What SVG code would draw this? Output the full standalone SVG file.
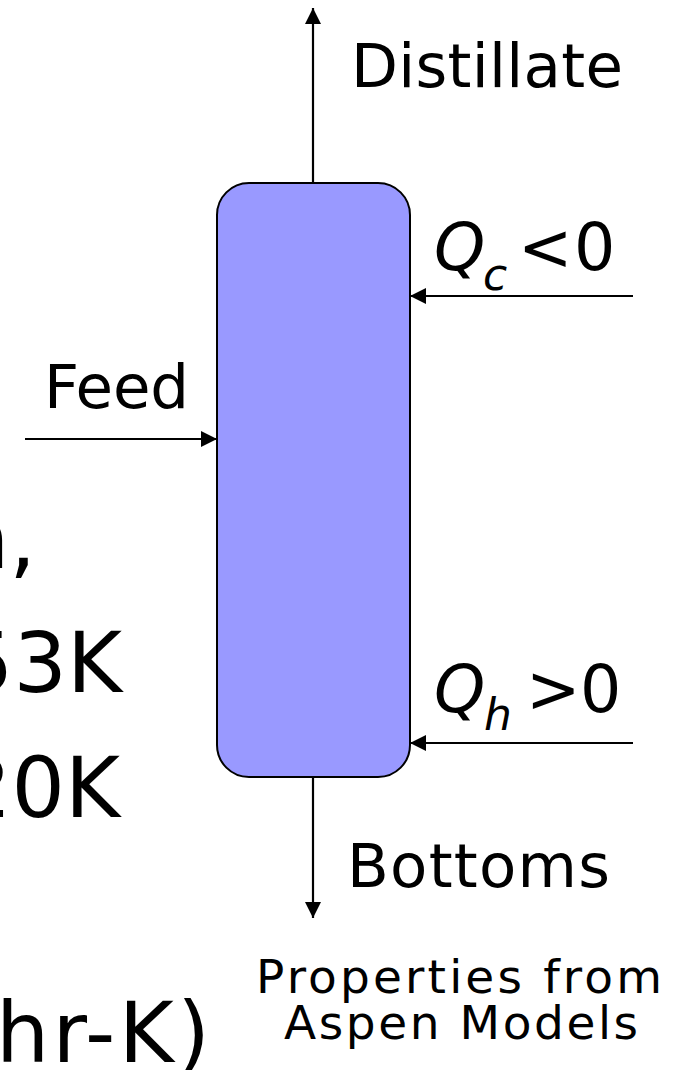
<svg xmlns="http://www.w3.org/2000/svg" width="681" height="1070" viewBox="0 0 681 1070">
<style>
text{font-family:"DejaVu Sans",Verdana,"Liberation Sans",sans-serif;fill:#000}
.big{font-size:84px}
.lbl{font-size:61px}
.q{font-size:65px}
.sm{font-size:47px}
.it{font-style:italic}
.sub{font-size:44px;font-style:italic}
.conn line{stroke:#000;stroke-width:2.2;marker-end:url(#ah)}
</style>
<defs>
<marker id="ah" viewBox="0 0 16 16" refX="16" refY="8" markerWidth="16" markerHeight="16" markerUnits="userSpaceOnUse" orient="auto">
<path d="M0,0 L16,8 L0,16 z" fill="#000"/>
</marker>
</defs>
<rect width="681" height="1070" fill="#fff"/>
<g id="left-text">
<text class="big" x="36" y="568" text-anchor="end">n,</text>
<text class="big" x="122" y="692" text-anchor="end">53K</text>
<text class="big" x="120" y="817" text-anchor="end">20K</text>
<text class="big" x="-4" y="1062" textLength="214" lengthAdjust="spacing">hr-K)</text>
</g>
<g id="column">
<rect x="217" y="183" width="193" height="594" rx="32" ry="32" fill="#9999ff" stroke="#000" stroke-width="2"/>
</g>
<g class="conn" id="connectors">
<line x1="313" y1="183" x2="313" y2="8"/>
<line x1="313" y1="777" x2="313" y2="918"/>
<line x1="25" y1="439" x2="217" y2="439"/>
<line x1="633" y1="296" x2="410" y2="296"/>
<line x1="633" y1="743" x2="410" y2="743"/>
</g>
<g id="distillate"><text class="lbl" x="351" y="87" textLength="272" lengthAdjust="spacing">Distillate</text></g>
<g id="feed"><text class="lbl" x="44" y="408" textLength="145" lengthAdjust="spacing">Feed</text></g>
<g id="bottoms"><text class="lbl" x="347" y="887" textLength="263" lengthAdjust="spacing">Bottoms</text></g>
<g id="qc"><text class="q"><tspan class="it" x="434" y="270">Q</tspan><tspan class="sub" x="483" y="290">c</tspan><tspan x="518" y="270">&lt;</tspan><tspan x="574" y="270">0</tspan></text></g>
<g id="qh"><text class="q"><tspan class="it" x="434" y="712">Q</tspan><tspan class="sub" x="484" y="730">h</tspan><tspan x="526" y="712">&gt;</tspan><tspan x="580" y="712">0</tspan></text></g>
<g id="note">
<text class="sm" x="256" y="993" textLength="406" lengthAdjust="spacing">Properties from</text>
<text class="sm" x="284" y="1039" textLength="354" lengthAdjust="spacing">Aspen Models</text>
</g>
</svg>
